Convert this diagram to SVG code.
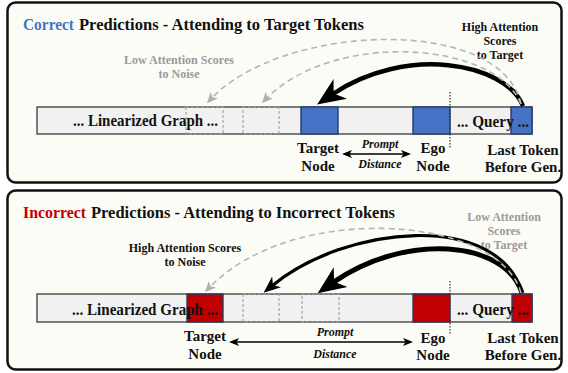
<svg xmlns="http://www.w3.org/2000/svg" width="568" height="373" viewBox="0 0 568 373">
<defs>
<style>
.panel{fill:#fcfcf7;stroke:#111;stroke-width:2.5}
.title{font-family:"Liberation Serif",serif;font-weight:bold;font-size:16.5px;fill:#111}
.bar{fill:#f1f1f1;stroke:#3a3a3a;stroke-width:1.3}
.blue{fill:#4472c4;stroke:#2a3a66;stroke-width:1.4}
.red{fill:#c00000;stroke:#2a3a66;stroke-width:1.4}
.noise{fill:none;stroke:#a6a6a6;stroke-width:1.2;stroke-dasharray:3 2}
.bartext{font-family:"Liberation Serif",serif;font-weight:bold;font-size:16px;fill:#111}
.lbl{font-family:"Liberation Serif",serif;font-weight:bold;font-size:15px;fill:#111;text-anchor:middle}
.ann{font-family:"Liberation Serif",serif;font-weight:bold;font-size:12px;fill:#111;text-anchor:middle}
.annG{font-family:"Liberation Serif",serif;font-weight:bold;font-size:12px;fill:#9a9a9a;text-anchor:middle}
.dist{font-family:"Liberation Serif",serif;font-weight:bold;font-style:italic;font-size:12px;fill:#111;text-anchor:middle}
.sep{stroke:#333;stroke-width:1.2;stroke-dasharray:1.5 1.5}
.att{fill:none;stroke:#000;stroke-linecap:butt}
.low{fill:none;stroke:#b4b4b4;stroke-width:1.6;stroke-dasharray:6 4}
.dbl{stroke:#000;stroke-width:1.5;marker-start:url(#small);marker-end:url(#small)}
</style>
<marker id="bigHead" markerUnits="userSpaceOnUse" viewBox="0 -13 29 26" markerWidth="29" markerHeight="26" refX="10" refY="0" orient="auto">
<path d="M0,-12 L28,0 L0,12 L8,0 Z" fill="#000"/>
</marker>
<marker id="midHead" markerUnits="userSpaceOnUse" viewBox="0 -8 18 16" markerWidth="18" markerHeight="16" refX="7" refY="0" orient="auto">
<path d="M0,-7 L17,0 L0,7 L5,0 Z" fill="#000"/>
</marker>
<marker id="greyHead" markerUnits="userSpaceOnUse" viewBox="0 -6 12 12" markerWidth="12" markerHeight="12" refX="8" refY="0" orient="auto">
<path d="M0,-5 L11,0 L0,5 L3,0 Z" fill="#b0b0b0"/>
</marker>
<marker id="small" markerUnits="userSpaceOnUse" viewBox="0 -5 10 10" markerWidth="10" markerHeight="10" refX="8" refY="0" orient="auto-start-reverse">
<path d="M0,-4 L10,0 L0,4 L2.5,0 Z" fill="#000"/>
</marker>
</defs>
<rect width="568" height="373" fill="#fff"/>

<!-- TOP PANEL -->
<g id="panel-correct">
<rect class="panel" x="7.5" y="2.5" width="554" height="180" rx="8"/>
<text class="title" x="23" y="30" textLength="51" lengthAdjust="spacingAndGlyphs" style="fill:#4472c4">Correct</text>
<text class="title" x="79" y="30" textLength="285" lengthAdjust="spacingAndGlyphs">Predictions - Attending to Target Tokens</text>
</g>
<g id="sequence-correct">
<rect class="bar" x="37" y="107" width="495" height="27"/>
<rect class="noise" x="186" y="107" width="37" height="27"/>
<rect class="noise" x="243" y="107" width="36" height="27"/>
<rect class="blue" x="301" y="107" width="37" height="27"/>
<rect class="blue" x="413" y="107" width="37" height="27"/>
<rect class="blue" x="511" y="107" width="21" height="27"/>
<line class="sep" x1="450" y1="92" x2="450" y2="149"/>
<text class="bartext" x="73" y="126" textLength="145" lengthAdjust="spacingAndGlyphs">... Linearized Graph ...</text>
<text class="bartext" x="457" y="127" textLength="72" lengthAdjust="spacingAndGlyphs">... Query ...</text>
</g>
<g id="target-node-correct"><text class="lbl" x="318" y="152.5">Target</text><text class="lbl" x="318" y="170.5">Node</text></g>
<g id="ego-node-correct"><text class="lbl" x="433" y="152.5">Ego</text><text class="lbl" x="433" y="170.5">Node</text></g>
<g id="last-token-correct"><text class="lbl" x="523" y="155">Last Token</text><text class="lbl" x="523" y="172">Before Gen.</text></g>
<g id="distance-correct"><text class="dist" x="380" y="148">Prompt</text><text class="dist" x="380" y="168">Distance</text></g>
<g id="ann-low-noise"><text class="annG" x="179" y="64">Low Attention Scores</text><text class="annG" x="179" y="78">to Noise</text></g>
<g id="ann-high-target"><text class="ann" x="500" y="31">High Attention</text><text class="ann" x="500" y="45">Scores</text><text class="ann" x="500" y="59">to Target</text></g>

<!-- BOTTOM PANEL -->
<g id="panel-incorrect">
<rect class="panel" x="7.5" y="190.5" width="554" height="179" rx="8"/>
<text class="title" x="23" y="218" textLength="63" lengthAdjust="spacingAndGlyphs" style="fill:#c00000">Incorrect</text>
<text class="title" x="91" y="218" textLength="304" lengthAdjust="spacingAndGlyphs">Predictions - Attending to Incorrect Tokens</text>
</g>
<g id="sequence-incorrect">
<rect class="bar" x="37" y="294" width="495" height="28"/>
<rect class="red" x="187" y="294" width="36" height="28"/>
<rect class="noise" x="243" y="294" width="36" height="28"/>
<rect class="noise" x="302" y="294" width="37" height="28"/>
<rect class="red" x="413" y="294" width="37" height="28"/>
<rect class="red" x="512" y="294" width="20" height="28"/>
<line class="sep" x1="450" y1="281" x2="450" y2="334"/>
<text class="bartext" x="72" y="314.5" textLength="146" lengthAdjust="spacingAndGlyphs">... Linearized Graph ...</text>
<text class="bartext" x="457" y="315" textLength="72" lengthAdjust="spacingAndGlyphs">... Query ...</text>
</g>
<g id="target-node-incorrect"><text class="lbl" x="205" y="341">Target</text><text class="lbl" x="205" y="358.5">Node</text></g>
<g id="ego-node-incorrect"><text class="lbl" x="433" y="342.5">Ego</text><text class="lbl" x="433" y="359.5">Node</text></g>
<g id="last-token-incorrect"><text class="lbl" x="523" y="343">Last Token</text><text class="lbl" x="523" y="360">Before Gen.</text></g>
<g id="distance-incorrect"><text class="dist" x="335" y="335.5">Prompt</text><text class="dist" x="335" y="358">Distance</text></g>
<g id="ann-high-noise"><text class="ann" x="185" y="252">High Attention Scores</text><text class="ann" x="185" y="266">to Noise</text></g>
<g id="ann-low-target"><text class="annG" x="504" y="221">Low Attention</text><text class="annG" x="504" y="235">Scores</text><text class="annG" x="504" y="249">to Target</text></g>

<!-- CONNECTORS -->
<g id="connectors">
<path class="att" stroke-width="4.5" d="M523,106 C505,62 405,45 332,94.5" marker-end="url(#bigHead)"/>
<path class="low" d="M521,104 C502,15 280,22 209,101" marker-end="url(#greyHead)"/>
<path class="low" d="M521,104 C495,40 330,30 264,101" marker-end="url(#greyHead)"/>
<line class="dbl" x1="344" y1="154" x2="409" y2="154"/>

<path class="att" stroke-width="3.2" d="M522,293 C498,210 345,225 271.3,286.4" marker-end="url(#midHead)"/>
<path class="att" stroke-width="5" d="M522,293 C505,240 405,232 332.4,282.9" marker-end="url(#bigHead)"/>
<path class="low" d="M521,293 C500,215 290,200 207,290" marker-end="url(#greyHead)"/>
<line class="dbl" x1="231" y1="342" x2="411" y2="342"/>
</g>
</svg>
